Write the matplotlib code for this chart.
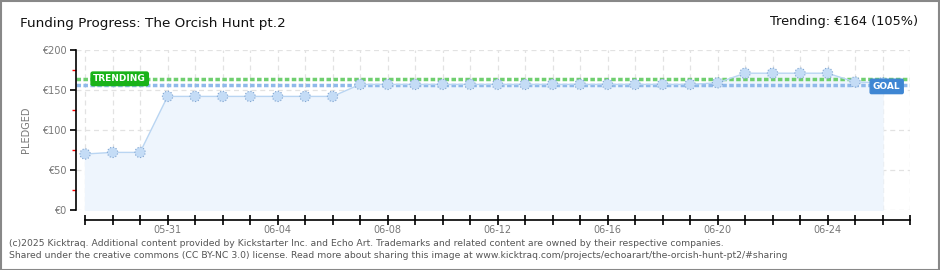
import matplotlib
matplotlib.use("Agg")
import matplotlib.pyplot as plt
from matplotlib.patches import Rectangle

# ---- data ----
all_days = ["05-28","05-29","05-30","05-31","06-01","06-02","06-03","06-04","06-05","06-06",
            "06-07","06-08","06-09","06-10","06-11","06-12","06-13","06-14","06-15","06-16",
            "06-17","06-18","06-19","06-20","06-21","06-22","06-23","06-24","06-25","06-26","06-27"]
pledged = [70, 72, 72, 142, 142, 142, 142, 142, 142, 142,
           157, 157, 157, 157, 157, 157, 157, 157, 157, 157,
           157, 157, 157, 159, 171, 171, 171, 171, 160, 159]
goal = 156
trending = 164
y_ticks = [0, 50, 100, 150, 200]
y_tick_labels = ["€0", "€50", "€100", "€150", "€200"]
x_label_days = ["05-31", "06-04", "06-08", "06-12", "06-16", "06-20", "06-24"]

plt.rcParams['font.family'] = ['DejaVu Sans']

W, H = 940, 270
fig = plt.figure(figsize=(W/100, H/100), dpi=100)
fig.patch.set_facecolor("white")

# frame
fig.add_artist(Rectangle((0.5/W, 0.5/H), 1-1.5/W, 1-1.5/H, transform=fig.transFigure,
                         fill=False, edgecolor="#888888", linewidth=1.5))

ax = fig.add_axes([76/W, 60/H, (910-76)/W, 160/H])
x = list(range(len(pledged)))
ax.fill_between(x, pledged, 0, color="#eef5fd", zorder=1)
ax.plot(x, pledged, color="#b9d5f2", linewidth=1, zorder=3)
ax.scatter(x, pledged, s=55, facecolor="#c4dcf6", edgecolor="#7fa4d0",
           linewidth=0.8, linestyle=":", zorder=4)

ax.axhline(trending, color="#6fcf6f", linewidth=2.5, linestyle=(0, (1.3, 0.7)), zorder=2)
ax.axhline(goal, color="#8fb9ea", linewidth=2.5, linestyle=(0, (1.3, 0.7)), zorder=2)

ax.set_xlim(-0.33, 30)
ax.set_ylim(0, 200)

# grid
for d in range(0, 31):
    ax.axvline(d, color="#e2e2e2", linewidth=0.9, linestyle=(0, (4, 3)), zorder=0.5)
for yv in y_ticks:
    ax.axhline(yv, color="#e2e2e2", linewidth=0.9, linestyle=(0, (4, 3)), zorder=0.5)

for s in ["top", "right"]:
    ax.spines[s].set_visible(False)
ax.spines["left"].set_color("black")
ax.spines["left"].set_linewidth(1.2)
ax.spines["bottom"].set_position(("outward", 7.2))
ax.spines["bottom"].set_bounds(0, 30)
ax.spines["bottom"].set_linewidth(1.2)

ax.set_yticks(y_ticks)
ax.set_yticklabels(y_tick_labels, fontsize=7, color="#777777")
ax.set_yticks([25, 75, 125, 175], minor=True)
ax.tick_params(axis="y", which="major", length=4, width=1.2, color="black", pad=3)
ax.tick_params(axis="y", which="minor", length=3, width=1, color="red")

ax.set_xticks(range(0, 31))
ax.set_xticklabels([d if d in x_label_days else "" for d in all_days],
                   fontsize=7, color="#777777")
ax.tick_params(axis="x", which="major", direction="inout", length=7, width=1.2, pad=0)

ax.set_ylabel("PLEDGED", fontsize=7, color="#777777", labelpad=8)

# labels on lines
ax.text(0.3, trending, "TRENDING", fontsize=6.5, color="white", va="center", ha="left",
        fontweight="bold", zorder=6,
        bbox=dict(boxstyle="round,pad=0.25,rounding_size=0.2", facecolor="#19b319", edgecolor="#19b319"))
ax.text(28.65, goal - 1.5, "GOAL", fontsize=6.5, color="white", va="center", ha="left",
        fontweight="bold", zorder=5,
        bbox=dict(boxstyle="round,pad=0.3,rounding_size=0.15", facecolor="#3e86d3", edgecolor="#3e86d3"))

# titles
fig.text(20/W, 1-24/H, "Funding Progress: The Orcish Hunt pt.2", fontsize=9.7, color="#111111",
         va="center", ha="left")
fig.text(918/W, 1-22/H, "Trending: €164 (105%)", fontsize=9.3, color="#111111",
         va="center", ha="right")

fig.text(9/W, 1-243/H, "(c)2025 Kicktraq. Additional content provided by Kickstarter Inc. and Echo Art. Trademarks and related content are owned by their respective companies.",
         fontsize=6.65, color="#555555", va="center", ha="left")
fig.text(9/W, 1-256/H, "Shared under the creative commons (CC BY-NC 3.0) license. Read more about sharing this image at www.kicktraq.com/projects/echoarart/the-orcish-hunt-pt2/#sharing",
         fontsize=6.65, color="#555555", va="center", ha="left")

fig.savefig("out.png", dpi=100, facecolor="white")
